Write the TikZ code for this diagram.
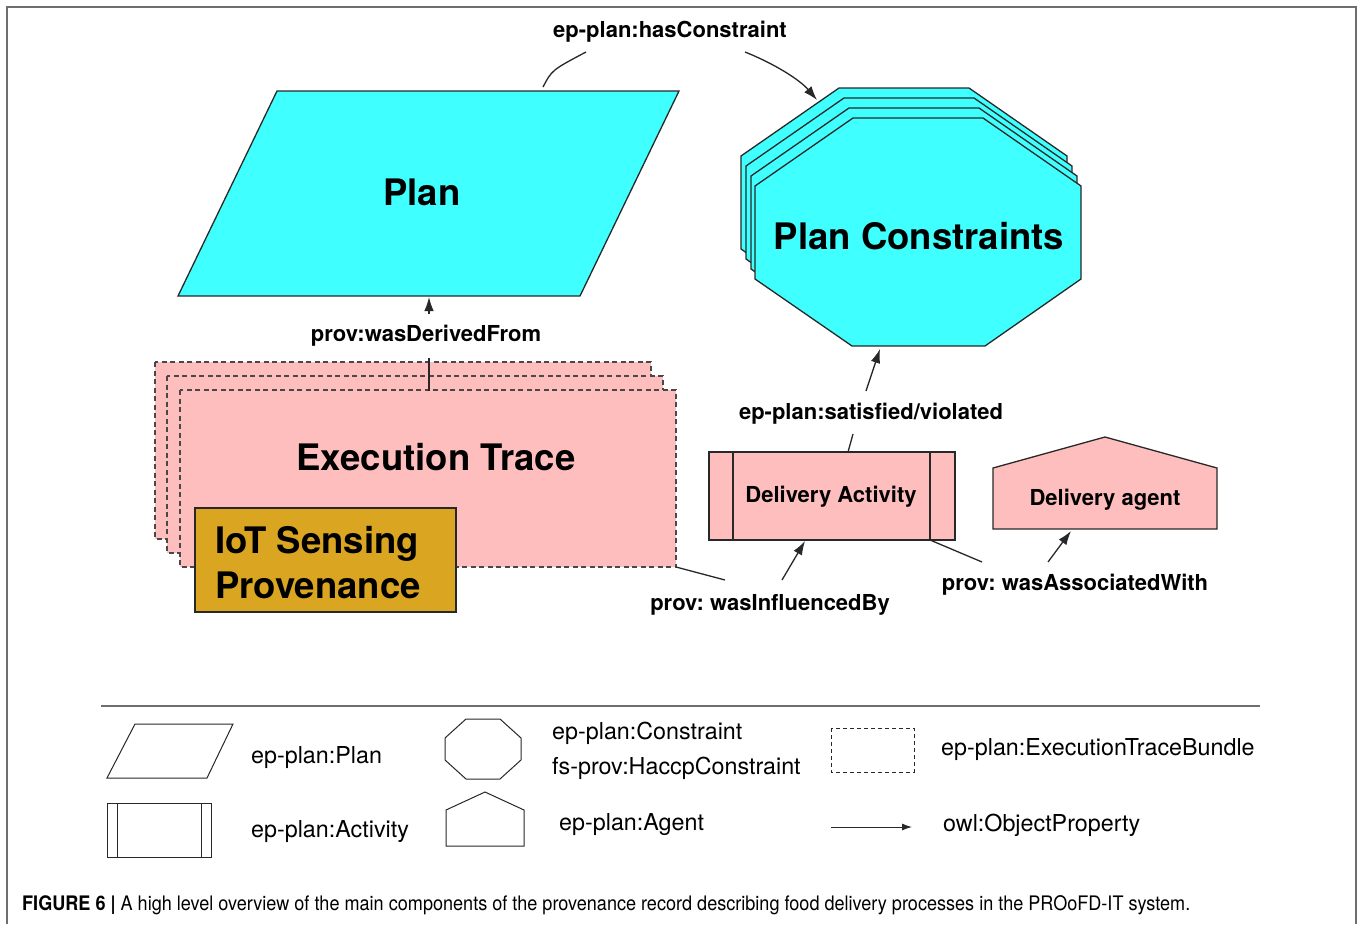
\documentclass[tikz,border=0pt]{standalone}
\usepackage{fontspec}
\setmainfont{TeX Gyre Heros}
\usepackage{graphicx}
\usetikzlibrary{arrows.meta}
\frenchspacing
\definecolor{plancyan}{RGB}{64,255,255}
\definecolor{tracepink}{RGB}{255,190,190}
\definecolor{iotgold}{RGB}{218,165,32}
\definecolor{outline}{RGB}{40,40,40}
\definecolor{framegray}{RGB}{110,110,110}

\begin{document}
\begin{tikzpicture}[x=1pt,y=-1pt,
  shapeline/.style={draw=outline, line width=1.3pt, line join=miter},
  cyanshape/.style={shapeline, fill=plancyan},
  pinkshape/.style={shapeline, fill=tracepink},
  bundle/.style={draw=outline!85, line width=1.1pt, dash pattern=on 5pt off 3.5pt, fill=tracepink},
  bigtext/.style={font=\bfseries\fontsize{36.5}{45}\selectfont, inner sep=0pt},
  boxtext/.style={font=\bfseries\fontsize{22}{26}\selectfont, inner sep=0pt},
  edgelabel/.style={font=\bfseries\fontsize{22}{26}\selectfont, inner sep=0pt},
  legendtext/.style={font=\fontsize{23.3}{27}\selectfont, inner sep=0pt, anchor=west},
  link/.style={draw=outline, line width=1.3pt},
  arrowlink/.style={link, -{Latex[length=14pt,width=9.5pt]}},
  legendline/.style={draw=outline, line width=1pt},
]
\useasboundingbox (0,0) rectangle (1363,924);
\fill[white] (0,0) rectangle (1363,924);

% figure frame (open at the bottom)
\draw[framegray, line width=2pt] (7,924) -- (7,7) -- (1356,7) -- (1356,924);

% ---------- Plan ----------
\draw[cyanshape] (277,91) -- (679,91) -- (580,296) -- (178,296) -- cycle;
\node[bigtext] (plan) at (422,192) {Plan};
\coordinate (planTopLink) at (543,87);
\coordinate (planBottom) at (429,297);

% ---------- Plan Constraints (stack of octagons) ----------
\foreach \dx/\dy in {-14/-30,-9/-20,-4/-10,0/0}{
  \draw[cyanshape, shift={(\dx,\dy)}]
    (853,118) -- (983,118) -- (1081,186) -- (1081,279) -- (985,346)
    -- (852,346) -- (755,279) -- (755,186) -- cycle;
}
\node[bigtext] (constraints) at (919,236) {Plan Constraints};
\coordinate (constraintsTop) at (817,100);
\coordinate (constraintsBottom) at (880,349);

% ---------- Execution Trace bundle ----------
\foreach \dx/\dy in {0/0,12/14,25/28}{
  \draw[bundle, shift={(\dx,\dy)}] (155,362) rectangle (651,539);
}
\node[bigtext] (trace) at (436,457) {Execution Trace};
\coordinate (traceTop) at (429,391);
\coordinate (traceCorner) at (676,567);

% IoT sensing provenance
\draw[shapeline, fill=iotgold] (195,508) rectangle (456,612);
\node[bigtext, anchor=west, align=left] (iot) at (215,563) {IoT Sensing\\Provenance};

% ---------- Delivery Activity ----------
\draw[pinkshape] (709,452) rectangle (955,540);
\draw[shapeline] (733,452) -- (733,540) (930,452) -- (930,540);
\node[boxtext] (activity) at (831,497) {Delivery Activity};
\coordinate (activityTop) at (848,452);
\coordinate (activityBottom) at (805,541);
\coordinate (activityCorner) at (930,540);

% ---------- Delivery agent ----------
\draw[pinkshape] (993,529) -- (993,468) -- (1105,437) -- (1217,468) -- (1217,529) -- cycle;
\node[boxtext] (agent) at (1105,500) {Delivery agent};
\coordinate (agentBottom) at (1071,531);

% ---------- property labels ----------
\node[edgelabel] (hasC) at (670,32) {ep-plan:hasConstraint};
\node[edgelabel] (derived) at (426,336) {prov:wasDerivedFrom};
\node[edgelabel] (satis) at (871,414) {ep-plan:satisfied/violated};
\node[edgelabel] (influ) at (770,605) {prov: wasInfluencedBy};
\node[edgelabel] (assoc) at (1075,585) {prov: wasAssociatedWith};

\coordinate (hasCin) at (586,52);
\coordinate (hasCout) at (745,52);
\coordinate (derivedIn) at (429,358);
\coordinate (derivedOut) at (429,314);
\coordinate (satisIn) at (853,434);
\coordinate (satisOut) at (866,391);
\coordinate (influIn) at (725,580);
\coordinate (influOut) at (782,580);
\coordinate (assocIn) at (982,562);
\coordinate (assocOut) at (1048,562);

% ---------- connectors ----------
\draw[link] (planTopLink) .. controls (552,70) .. (hasCin);
\draw[arrowlink] (hasCout) .. controls (775,64) and (800,80) .. (constraintsTop);

\draw[link] (traceTop) -- (derivedIn);
\draw[arrowlink] (derivedOut) -- (planBottom);

\draw[link] (activityTop) -- (satisIn);
\draw[arrowlink] (satisOut) -- (constraintsBottom);

\draw[link] (traceCorner) -- (influIn);
\draw[arrowlink] (influOut) -- (activityBottom);

\draw[link] (activityCorner) -- (assocIn);
\draw[arrowlink] (assocOut) -- (agentBottom);

% ---------- legend ----------
\draw[framegray, line width=1.5pt] (101,706) -- (1260,706);

\draw[legendline] (135,724) -- (233,724) -- (207,778) -- (107,778) -- cycle;
\node[legendtext] (lgPlan) at (251,758) {ep-plan:Plan};

\draw[legendline] (107,803) rectangle (211,857);
\draw[legendline] (117,803) -- (117,857) (201,803) -- (201,857);
\node[legendtext] (lgActivity) at (251,832) {ep-plan:Activity};

\draw[legendline] (466,719) -- (500,719) -- (521,738) -- (521,760) -- (500,779)
  -- (466,779) -- (445,760) -- (445,738) -- cycle;
\node[legendtext] (lgConstraint) at (552,733) {ep-plan:Constraint};
\node[legendtext] (lgHaccp) at (552,768) {fs-prov:HaccpConstraint};

\draw[legendline] (446,846) -- (446,810) -- (485,792) -- (524,810) -- (524,846) -- cycle;
\node[legendtext] (lgAgent) at (559,825) {ep-plan:Agent};

\draw[legendline, dash pattern=on 4pt off 3pt] (831,728) rectangle (914,772);
\node[legendtext] (lgBundle) at (941,750) {ep-plan:ExecutionTraceBundle};

\coordinate (lgArrowStart) at (831,827);
\coordinate (lgArrowEnd) at (912,827);
\draw[legendline, -{Latex[length=10pt,width=7pt]}] (lgArrowStart) -- (lgArrowEnd);
\node[legendtext] (lgProperty) at (943,825) {owl:ObjectProperty};

% ---------- caption ----------
\node[anchor=west, inner sep=0pt] (caption) at (22,905)
  {\resizebox{1168pt}{\height}{\fontsize{20}{22}\selectfont\textbf{FIGURE 6 |} A high level overview of the main components of the provenance record describing food delivery processes in the PROoFD-IT system.}};
\end{tikzpicture}
\end{document}
